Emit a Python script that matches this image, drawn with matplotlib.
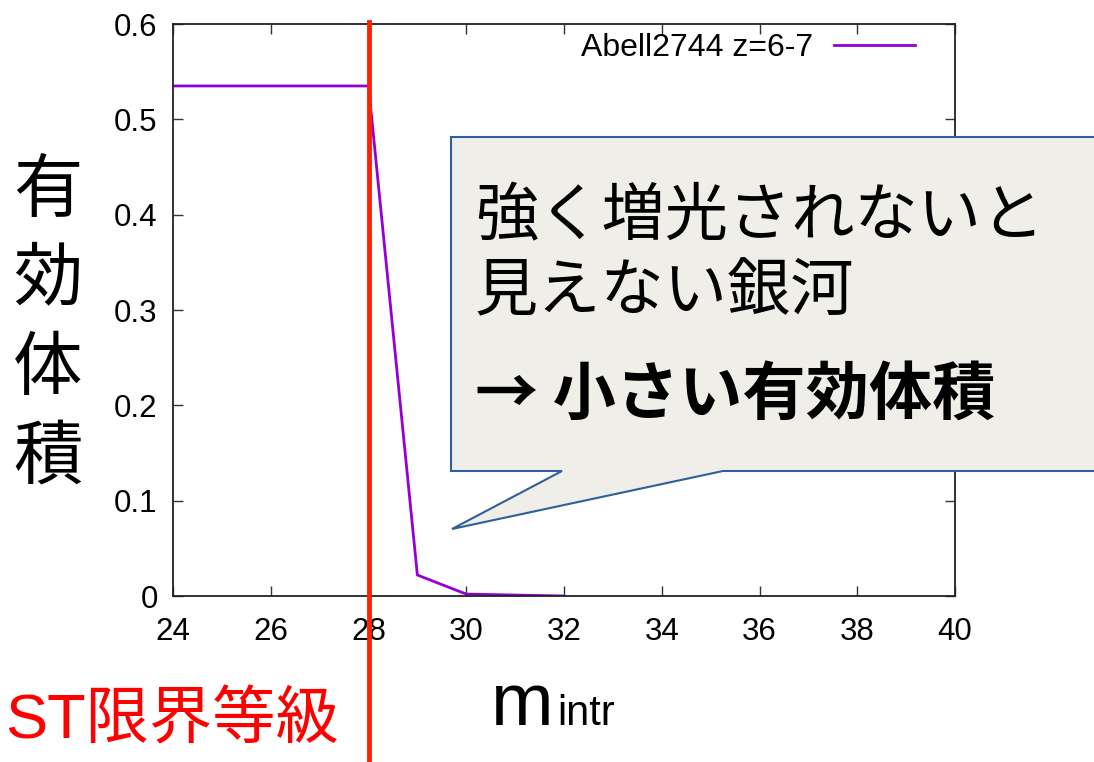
import matplotlib
matplotlib.use("Agg")
import matplotlib.pyplot as plt
from matplotlib.patches import Polygon
from matplotlib.transforms import blended_transform_factory

plt.rcParams['font.family'] = ['Liberation Sans', 'Noto Sans CJK JP', 'DejaVu Sans']

# Data
mag = [24, 25, 26, 27, 28, 29, 30, 31, 32]
veff = [0.535, 0.535, 0.535, 0.535, 0.535, 0.022, 0.002, 0.001, 0.0]
series_label = "Abell2744 z=6-7"
xticks = [24, 26, 28, 30, 32, 34, 36, 38, 40]
yticks = [0, 0.1, 0.2, 0.3, 0.4, 0.5, 0.6]
ytick_labels = ["0", "0.1", "0.2", "0.3", "0.4", "0.5", "0.6"]
st_limit = 28.0

W, H = 1094, 762
fig = plt.figure(figsize=(W / 100, H / 100), dpi=100)
ax = fig.add_axes([173 / W, 1 - 596 / H, (955 - 173) / W, (596 - 24) / H])

ax.plot(mag, veff, color='#9400d3', lw=2, label=series_label)
ax.set_xlim(24, 40)
ax.set_ylim(0, 0.6)
ax.set_xticks(xticks)
ax.set_yticks(yticks)
ax.set_yticklabels(ytick_labels)
ax.tick_params(direction='in', length=7, width=1, top=True, right=True,
               labelsize=22.5, color='#333333')
ax.tick_params(axis='x', pad=15)
ax.tick_params(axis='y', pad=11)
for s in ax.spines.values():
    s.set_linewidth(1.3)
    s.set_color('#222222')

leg = ax.legend(loc='upper right', frameon=False, fontsize=23, markerfirst=False,
                handlelength=2.55, handletextpad=0.65, borderaxespad=0, borderpad=0,
                bbox_to_anchor=(0.9488, 0.984))

# red vertical ST limit line
tr = blended_transform_factory(ax.transData, fig.transFigure)
ax.plot([st_limit, st_limit], [0, 1 - 22 / H], color='#ff2200', lw=3.5,
        transform=tr, clip_on=False, zorder=5)

# y label stacked
for i, ch in enumerate("有効体積"):
    fig.text(48 / W, 1 - (191 + i * 89) / H, ch, fontsize=50, ha='center', va='center',
             family=['Noto Sans CJK JP'])

# x label
fig.text(491 / W, 1 - 725 / H, "m", fontsize=54, ha='left', va='baseline')
fig.text(557 / W, 1 - 725 / H, "intr", fontsize=30, ha='left', va='baseline')

# ST limit text
fig.text(5 / W, 1 - 722 / H, "ST限界等級", fontsize=45.5, color='#ff0000',
         ha='left', va='center', family=['Liberation Sans', 'Noto Sans CJK JP'])

# callout
pts = [(451, 137), (1100, 137), (1100, 471), (723, 471), (452, 529), (562, 471), (451, 471)]
poly = Polygon([(x / W, 1 - y / H) for x, y in pts], closed=True, transform=fig.transFigure,
               facecolor='#f0eee9', edgecolor='#2e6099', lw=1.5, zorder=10, clip_on=False)
fig.add_artist(poly)
fig.text(475 / W, 1 - 217 / H, "強く増光されないと", fontsize=45.5, ha='left', va='center',
         family=['Noto Sans CJK JP'], zorder=11)
fig.text(475 / W, 1 - 292 / H, "見えない銀河", fontsize=45.5, ha='left', va='center',
         family=['Noto Sans CJK JP'], zorder=11)
fig.text(475 / W, 1 - 396 / H, "→ 小さい有効体積", fontsize=45.5, ha='left', va='center',
         fontweight='bold', family=['Noto Sans CJK JP', 'DejaVu Sans'], zorder=11)

fig.savefig("out.png", dpi=100)
